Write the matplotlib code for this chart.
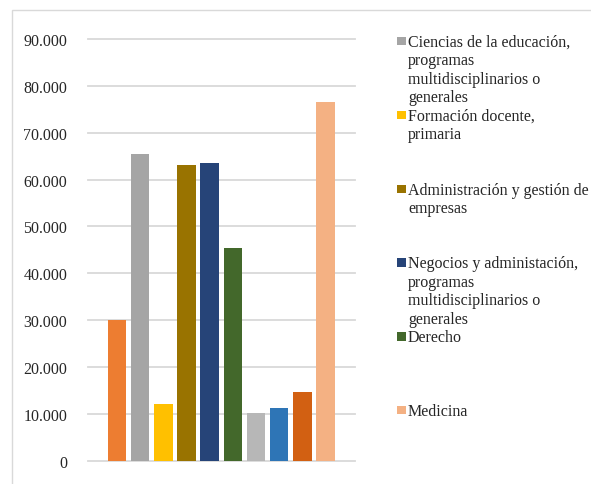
import matplotlib
matplotlib.use("Agg")
import matplotlib.pyplot as plt
from matplotlib.patches import Rectangle
from matplotlib.ticker import FuncFormatter

plt.rcParams['font.family'] = ['Liberation Serif', 'DejaVu Serif']

# ---- data ----
categories = ["Serie 1", "Ciencias de la educación, programas multidisciplinarios o generales",
              "Formación docente, primaria", "Administración y gestión de empresas",
              "Negocios y administación, programas multidisciplinarios o generales",
              "Derecho", "Serie 7", "Serie 8", "Serie 9", "Medicina"]
values = [30000, 65500, 12100, 63100, 63500, 45400, 10200, 11200, 14700, 76600]
colors = ["#ED7D31", "#A5A5A5", "#FFC000", "#997300", "#264478",
          "#43682B", "#B7B7B7", "#2E75B6", "#D26012", "#F4B183"]
yticks = [0, 10000, 20000, 30000, 40000, 50000, 60000, 70000, 80000, 90000]

# visible legend entries (as they appear, with line breaks)
legend_idx = [1, 2, 3, 4, 5, 9]
legend_lines = [
    ["Ciencias de la educación,", "programas", "multidisciplinarios o", "generales"],
    ["Formación docente,", "primaria"],
    ["Administración y gestión de", "empresas"],
    ["Negocios y administación,", "programas", "multidisciplinarios o", "generales"],
    ["Derecho"],
    ["Medicina"],
]
legend_first_center = [42.0, 115.7, 190.0, 263.5, 337.3, 411.0]

W, H = 591, 485
fig = plt.figure(figsize=(W / 100, H / 100), dpi=100)

def fx(x):
    return x / W

def fy(y):
    return 1 - y / H

# outer chart border
fig.patches.append(Rectangle((fx(12), fy(600)), fx(700), fy(11) - fy(600),
                             transform=fig.transFigure, fill=False,
                             edgecolor="#D9D9D9", linewidth=1.0))

ax_left, ax_right, ax_top, ax_bot = 88, 355, 40, 461.7
ax = fig.add_axes([fx(ax_left), fy(ax_bot), fx(ax_right - ax_left), fy(ax_top) - fy(ax_bot)])

x = list(range(len(values)))
ax.bar(x, values, width=0.8, color=colors, zorder=3)
ax.set_xlim(-1.25, 10.27)
ax.set_ylim(0, 90000)
ax.set_yticks(yticks)
ax.yaxis.set_major_formatter(FuncFormatter(lambda v, p: f"{int(v):,}".replace(",", ".")))
ax.grid(axis="y", color="#D9D9D9", linewidth=1.3, zorder=0, clip_on=False)
for gl in ax.get_ygridlines():
    gl.set_clip_on(False)
ax.set_xticks([])
ax.tick_params(axis="y", length=0, pad=15, labelsize=11.5, labelcolor="#262626")
for s in ax.spines.values():
    s.set_visible(False)

# legend
step = 18.4
for idx, lines, yc in zip(legend_idx, legend_lines, legend_first_center):
    fig.patches.append(Rectangle((fx(397.3), fy(yc + 4.2)), fx(8.4), fy(0) - fy(8.4),
                                 transform=fig.transFigure, facecolor=colors[idx],
                                 edgecolor="none"))
    for k, line in enumerate(lines):
        fig.text(fx(408), fy(yc + 5 + k * step), line, fontsize=11.5,
                 color="#262626", va="baseline", ha="left")

fig.savefig("out.png", dpi=100)
